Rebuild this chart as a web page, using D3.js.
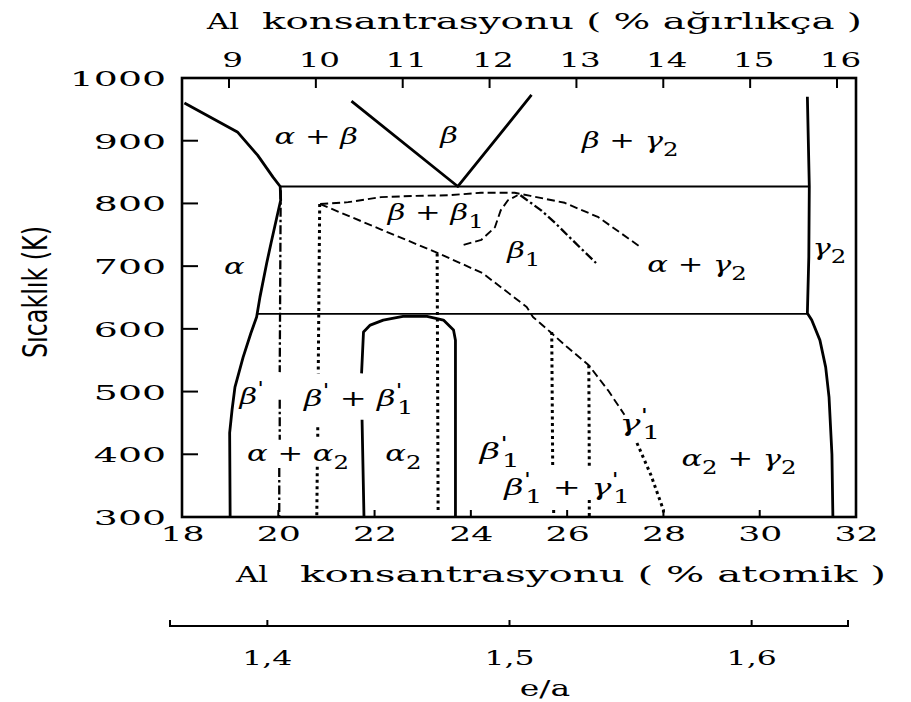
<!DOCTYPE html>
<html>
<head>
<meta charset="utf-8">
<script src="https://cdn.jsdelivr.net/npm/d3@7"></script>
<style>
  body { margin: 0; background: #fff; }
  text { white-space: pre; }
</style>
</head>
<body>
<svg id="chart" width="911" height="702"></svg>
<script>
// ---- axis ticks ----
const tempTicks = [300, 400, 500, 600, 700, 800, 900, 1000];
const atomicTicks = [18, 20, 22, 24, 26, 28, 30, 32];
const weightTicks = [9, 10, 11, 12, 13, 14, 15, 16];
const eaTicks = [1.4, 1.5, 1.6];
const eaTickLabels = ["1,4", "1,5", "1,6"];

// ---- phase boundaries: [at.% Al, T (K)], null = break in the line ----
const alphaBoundary = [
  [18.05, 960], [19.15, 914], [19.57, 877], [19.89, 842], [20.04, 827],
  [20.05, 805], [19.97, 778], [19.85, 737], [19.76, 705], [19.62, 651],
  [19.55, 619], [19.43, 593], [19.27, 555], [19.10, 507], [19.04, 471],
  [18.99, 434], [19.00, 300]
];
const betaV = [[21.52, 963], [23.73, 827], [25.26, 973]];
const gamma2Boundary = [
  [30.99, 970], [31.03, 827], [31.02, 715], [30.99, 625], [31.08, 614],
  [31.25, 582], [31.37, 539], [31.44, 491], [31.50, 400], [31.52, 300]
];
const alpha2Dome = [
  [21.78, 300], [21.74, 455], null, [21.73, 529], [21.77, 595], [21.91, 606],
  [22.18, 614], [22.59, 620], [23.09, 620], [23.43, 614], [23.64, 598],
  [23.68, 582], [23.68, 300]
];
const eutectoid = [[20.04, 827], [31.03, 827]];
const lowerIsotherm = [[19.56, 624], [30.99, 624]];

// ordering lines
const betaBeta1Top = [
  [20.87, 799], [21.45, 802], [22.13, 810], [22.84, 812], [23.52, 813],
  [24.21, 817], [24.91, 817], [25.24, 812], [25.95, 801], [26.65, 778],
  [27.55, 729]
];
const orderDiagonal = [
  [20.87, 799], [22.15, 758], [23.28, 722], [24.24, 689], [25.16, 635],
  [25.29, 619], [25.65, 595], [26.00, 571], [26.45, 542], [26.85, 502],
  [27.19, 463]
];
const orderDiagonalEnd = [[27.45, 418], [27.74, 367], [28.00, 311], [28.00, 300]];
const beta1Curve = [
  [23.85, 734], [24.22, 742], [24.50, 762], [24.62, 789], [24.77, 805], [24.97, 813]
];
const beta1Peak = [[25.03, 813], [25.46, 789], [25.75, 769], [26.17, 737], [26.60, 705]];
const martensiteA = [
  [20.05, 821], [20.03, 531], null, [20.03, 487], [20.03, 423], null,
  [20.02, 378], [20.02, 300]
];
const martensiteB = [
  [20.86, 799], [20.83, 529], null, [20.82, 443], [20.82, 423], null,
  [20.81, 380], [20.80, 300]
];
const martensiteC = [[23.30, 720], [23.32, 308]];
const martensiteD = [[25.68, 595], [25.70, 380], null, [25.72, 311], [25.72, 300]];
const martensiteE = [[26.45, 542], [26.46, 380], null, [26.46, 327], [26.46, 300]];

// ---- phase labels: text (' = prime, _x = subscript), at.% Al, T (K) ----
const phaseLabels = [
  ["α + β", 20.79, 904],
  ["β", 23.55, 906],
  ["β + γ_2", 27.31, 898],
  ["β + β_1", 23.27, 783],
  ["β_1", 25.10, 722],
  ["α + γ_2", 28.70, 700],
  ["γ_2", 31.45, 727],
  ["α", 19.09, 697],
  ["β'", 19.45, 490],
  ["β' + β'_1", 21.67, 487],
  ["α + α_2", 20.41, 399],
  ["α_2", 22.60, 399],
  ["β'_1", 24.60, 402],
  ["β'_1 + γ'_1", 26.00, 345],
  ["γ'_1", 27.51, 447],
  ["α_2 + γ_2", 29.57, 391]
];

// ---- layout ----
const svg = d3.select("#chart");
const X0 = 182, X1 = 856, Y0 = 78, Y1 = 517;
const xAt = d3.scaleLinear().domain([18, 32]).range([X0, X1]);
const yT = d3.scaleLinear().domain([300, 1000]).range([Y1, Y0]);
const xWt = d3.scaleLinear().domain([9, 16]).range([229, 837]);
const xEa = d3.scaleLinear().domain([1.36, 1.64]).range([170, 848]);
const EA_Y = 626;

const serif = "'DejaVu Serif', 'Liberation Serif', serif";
const ink = "#000";
const intFmt = d3.format("d");

// stretch a text node horizontally by a factor of its natural width
function stretch(sel, factor) {
  sel.each(function () {
    const w = this.getComputedTextLength();
    d3.select(this).attr("textLength", w * factor).attr("lengthAdjust", "spacingAndGlyphs");
  });
}

// ---- frame ----
svg.append("rect")
  .attr("x", X0).attr("y", Y0).attr("width", X1 - X0).attr("height", Y1 - Y0)
  .attr("fill", "none").attr("stroke", ink).attr("stroke-width", 2.6);

// ---- axes ----
const leftAxis = d3.axisLeft(yT).tickValues(tempTicks).tickFormat(intFmt).tickSize(0).tickPadding(0);
const gLeft = svg.append("g").attr("transform", `translate(${X0},0)`).call(leftAxis);
gLeft.select(".domain").remove();
gLeft.selectAll(".tick text")
  .attr("x", -16).attr("dy", "0.36em")
  .attr("font-family", serif).attr("font-size", 21).attr("fill", ink)
  .call(stretch, 1.8);
// inward ticks on the temperature axis
svg.append("g").selectAll("line").data(tempTicks.filter(t => t > 300 && t < 1000)).join("line")
  .attr("x1", X0).attr("x2", X0 + 16).attr("y1", d => yT(d)).attr("y2", d => yT(d))
  .attr("stroke", ink).attr("stroke-width", 2);

const bottomAxis = d3.axisBottom(xAt).tickValues(atomicTicks).tickFormat(intFmt).tickSize(0).tickPadding(0);
const gBottom = svg.append("g").attr("transform", `translate(0,${Y1})`).call(bottomAxis);
gBottom.select(".domain").remove();
gBottom.selectAll(".tick text")
  .attr("y", 24).attr("dy", 0)
  .attr("font-family", serif).attr("font-size", 21).attr("fill", ink)
  .call(stretch, 1.65);
svg.append("g").selectAll("line").data(atomicTicks.filter(t => t > 18 && t < 32)).join("line")
  .attr("x1", d => xAt(d)).attr("x2", d => xAt(d)).attr("y1", Y1).attr("y2", Y1 - 7)
  .attr("stroke", ink).attr("stroke-width", 2);

const topAxis = d3.axisTop(xWt).tickValues(weightTicks).tickFormat(intFmt).tickSize(0).tickPadding(0);
const gTop = svg.append("g").attr("transform", `translate(0,${Y0})`).call(topAxis);
gTop.select(".domain").remove();
gTop.selectAll(".tick text")
  .attr("x", 3).attr("y", -11).attr("dy", 0)
  .attr("font-family", serif).attr("font-size", 21).attr("fill", ink)
  .call(stretch, 1.55);
svg.append("g").selectAll("line").data(weightTicks).join("line")
  .attr("x1", d => xWt(d)).attr("x2", d => xWt(d)).attr("y1", Y0).attr("y2", Y0 + 10)
  .attr("stroke", ink).attr("stroke-width", 2);

// electron-per-atom scale
const eaAxis = d3.axisTop(xEa).tickValues(eaTicks).tickSize(6).tickFormat((d, i) => eaTickLabels[i]);
const gEa = svg.append("g").attr("transform", `translate(0,${EA_Y})`).call(eaAxis);
gEa.select(".domain").attr("d", `M${xEa(1.36)},-6V0H${xEa(1.64)}V-6`).attr("stroke-width", 2);
gEa.selectAll(".tick line").attr("stroke-width", 2);
gEa.selectAll(".tick text")
  .attr("y", 39).attr("dy", 0)
  .attr("font-family", serif).attr("font-size", 21).attr("fill", ink)
  .call(stretch, 1.5);

// ---- axis titles ----
function title(x, y, str, width, size) {
  svg.append("text").attr("x", x).attr("y", y)
    .attr("font-family", serif).attr("font-size", size).attr("fill", ink)
    .text(str)
    .attr("textLength", width).attr("lengthAdjust", "spacingAndGlyphs");
}
title(207, 29, "Al", 32, 23);
title(262, 29, "konsantrasyonu ( % ağırlıkça )", 600, 23);
title(236, 582, "Al", 32, 23);
title(300, 582, "konsantrasyonu ( % atomik )", 586, 23);
svg.append("text").attr("x", 545).attr("y", 696).attr("text-anchor", "middle")
  .attr("font-family", serif).attr("font-size", 22).attr("fill", ink)
  .text("e/a").call(stretch, 1.5);
svg.append("text")
  .attr("transform", "translate(47,292) rotate(-90)")
  .attr("text-anchor", "middle")
  .attr("font-family", "'Liberation Sans Narrow', 'DejaVu Sans', sans-serif")
  .attr("font-size", 34).attr("fill", ink)
  .text("Sıcaklık (K)")
  .attr("textLength", 132).attr("lengthAdjust", "spacingAndGlyphs");

// ---- boundary lines ----
const line = d3.line().defined(d => d !== null).x(d => xAt(d[0])).y(d => yT(d[1]));
const lineStyles = {
  solid: { w: 2.8, dash: null },
  thin: { w: 1.8, dash: null },
  dashed: { w: 1.9, dash: "8,4" },
  dashdot: { w: 2.3, dash: "9,3,2.5,3" },
  dotted: { w: 3, dash: "3,3.5" }
};
const boundaries = [
  [alphaBoundary, "solid"], [betaV, "solid"], [gamma2Boundary, "solid"],
  [alpha2Dome, "solid"], [eutectoid, "thin"], [lowerIsotherm, "thin"],
  [betaBeta1Top, "dashed"], [orderDiagonal, "dashed"], [beta1Curve, "dashed"],
  [orderDiagonalEnd, "dotted"], [beta1Peak, "dashdot"], [martensiteA, "dashdot"],
  [martensiteB, "dotted"], [martensiteC, "dotted"], [martensiteD, "dotted"],
  [martensiteE, "dotted"]
];
svg.append("g").attr("fill", "none").attr("stroke", ink)
  .selectAll("path").data(boundaries).join("path")
  .attr("d", d => line(d[0]))
  .attr("stroke-width", d => lineStyles[d[1]].w)
  .attr("stroke-dasharray", d => lineStyles[d[1]].dash)
  .attr("stroke-linejoin", "round");

// ---- phase labels ----
function richLabel(textSel, str) {
  let off = 0, primed = false, i = 0;
  while (i < str.length) {
    const c = str[i];
    if (c === "'") {
      textSel.append("tspan").attr("dy", -9 - off).attr("font-size", "80%")
        .attr("font-style", "normal").text("'");
      off = -9; primed = true; i += 1;
    } else if (c === "_") {
      const t = textSel.append("tspan").attr("dy", 8 - off).attr("font-size", "80%")
        .attr("font-style", "normal").text(str[i + 1]);
      if (primed) t.attr("dx", -4);
      off = 8; primed = false; i += 2;
    } else {
      let j = i;
      while (j < str.length && str[j] !== "'" && str[j] !== "_") j++;
      textSel.append("tspan").attr("dy", -off).text(str.slice(i, j));
      off = 0; primed = false; i = j;
    }
  }
}
svg.append("g").selectAll("text").data(phaseLabels).join("text")
  .attr("x", d => xAt(d[1])).attr("y", d => yT(d[2]) + 6)
  .attr("text-anchor", "middle")
  .attr("font-family", serif).attr("font-style", "italic").attr("font-size", 23).attr("fill", ink)
  .each(function (d) { richLabel(d3.select(this), d[0]); })
  .call(stretch, 1.33);
</script>
</body>
</html>
